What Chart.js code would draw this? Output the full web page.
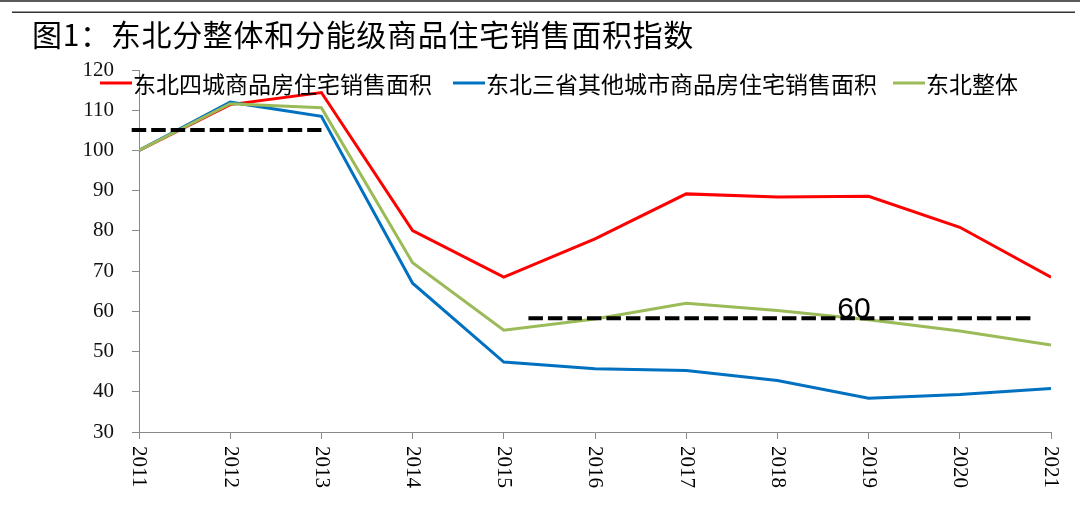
<!DOCTYPE html>
<html>
<head>
<meta charset="utf-8">
<script src="https://cdn.jsdelivr.net/npm/chart.js@4.4.1/dist/chart.umd.min.js"></script>
<style>
html,body{margin:0;padding:0;background:#fff;}
#wrap{position:relative;width:1080px;height:513px;}
canvas{display:block;}
</style>
</head>
<body>
<div id="wrap"><canvas id="c" width="1080" height="513"></canvas></div>
<script>
// ---- data ----
const titleText = "图1：东北分整体和分能级商品住宅销售面积指数";
const years = [2011, 2012, 2013, 2014, 2015, 2016, 2017, 2018, 2019, 2020, 2021];
const seriesNames = ["东北四城商品房住宅销售面积", "东北三省其他城市商品房住宅销售面积", "东北整体"];
const fourCities = [100, 111.4, 114.4, 80.1, 68.5, 78.0, 89.2, 88.4, 88.6, 80.9, 68.5];
const otherCities = [100, 112.0, 108.5, 67.0, 47.4, 45.7, 45.3, 42.8, 38.4, 39.3, 40.8];
const northeastAll = [100, 111.6, 110.6, 72.1, 55.3, 58.1, 62.0, 60.2, 57.9, 55.1, 51.6];
const refLine1X = [2010.92, 2013.0];
const refLine1Y = 105.1;
const refLine2X = [2015.27, 2020.78];
const refLine2Y = 58.3;
const annotationText = "60";
const annotationX = 2018.84;
const annotationY = 58.4;
const yTicks = [30, 40, 50, 60, 70, 80, 90, 100, 110, 120];

const colors = ["#FF0000", "#0070C0", "#9BBB59"];
const toXY = arr => years.map((yr, i) => ({x: yr, y: arr[i]}));

const decor = {
  id: 'decor',
  beforeDraw(chart) {
    const ctx = chart.ctx;
    ctx.save();
    ctx.fillStyle = '#fff';
    ctx.fillRect(0, 0, chart.width, chart.height);
    ctx.fillStyle = '#5a5a5a';
    ctx.fillRect(0, 0, 1080, 2);
    ctx.fillStyle = '#333';
    ctx.fillRect(12, 11.5, 1063, 1.5);
    ctx.fillStyle = '#000';
    ctx.font = '30px "Noto Sans CJK SC"';
    if ('letterSpacing' in ctx) ctx.letterSpacing = '0.7px';
    ctx.textBaseline = 'alphabetic';
    ctx.textAlign = 'left';
    ctx.fillText(titleText, 32, 46);
    if ('letterSpacing' in ctx) ctx.letterSpacing = '0px';
    ctx.restore();
  },
  afterDatasetsDraw(chart) {
    const ctx = chart.ctx;
    const xs = chart.scales.x, ys = chart.scales.y;
    ctx.save();
    ctx.fillStyle = '#000';
    ctx.font = '30px "Liberation Sans"';
    ctx.textAlign = 'center';
    ctx.textBaseline = 'alphabetic';
    ctx.fillText(annotationText, xs.getPixelForValue(annotationX), ys.getPixelForValue(annotationY));
    // x tick labels rotated clockwise
    ctx.font = '21px "Liberation Serif"';
    ctx.textAlign = 'left';
    ctx.textBaseline = 'middle';
    years.forEach(yr => {
      const px = xs.getPixelForValue(yr);
      ctx.save();
      ctx.translate(px, ys.bottom + 14);
      ctx.rotate(Math.PI / 2);
      ctx.fillText(String(yr), 0, 0);
      ctx.restore();
    });
    // legend
    const legendX = [100, 453, 893];
    const ly = 83;
    ctx.font = '23px "Noto Sans CJK SC"';
    ctx.textBaseline = 'middle';
    ctx.textAlign = 'left';
    seriesNames.forEach((name, i) => {
      ctx.strokeStyle = colors[i];
      ctx.lineWidth = 3;
      ctx.beginPath();
      ctx.moveTo(legendX[i], ly);
      ctx.lineTo(legendX[i] + 32, ly);
      ctx.stroke();
      ctx.fillStyle = '#000';
      ctx.fillText(name, legendX[i] + 33, ly + 1);
    });
    ctx.restore();
  }
};

new Chart(document.getElementById('c'), {
  type: 'line',
  data: {
    datasets: [
      {label: seriesNames[0], data: toXY(fourCities), borderColor: colors[0], borderWidth: 3, pointRadius: 0, order: 3, tension: 0},
      {label: seriesNames[1], data: toXY(otherCities), borderColor: colors[1], borderWidth: 3, pointRadius: 0, order: 2, tension: 0},
      {label: seriesNames[2], data: toXY(northeastAll), borderColor: colors[2], borderWidth: 3, pointRadius: 0, order: 1, tension: 0},
      {label: 'ref1', data: refLine1X.map(x => ({x, y: refLine1Y})), borderColor: '#000', borderWidth: 4, borderDash: [14.5, 5], pointRadius: 0, order: 0, clip: false},
      {label: 'ref2', data: refLine2X.map(x => ({x, y: refLine2Y})), borderColor: '#000', borderWidth: 4, borderDash: [14.5, 5], pointRadius: 0, order: 0, clip: false}
    ]
  },
  options: {
    responsive: false,
    animation: false,
    devicePixelRatio: 1,
    layout: {padding: {left: 0, top: 70, right: 29, bottom: 0}},
    plugins: {legend: {display: false}, tooltip: {enabled: false}},
    scales: {
      x: {
        type: 'linear', min: 2011, max: 2021,
        afterBuildTicks: s => { s.ticks = years.map(v => ({value: v})); },
        afterFit: s => { s.height = 81; },
        ticks: {display: false},
        grid: {display: true, drawOnChartArea: false, drawTicks: true, tickLength: 7, color: '#8a8a8a'},
        border: {display: true, color: '#8a8a8a', width: 1}
      },
      y: {
        min: 30, max: 120,
        afterBuildTicks: s => { s.ticks = yTicks.map(v => ({value: v})); },
        afterFit: s => { s.width = 139; },
        ticks: {padding: 18, color: '#111', font: {family: 'Liberation Serif', size: 21}},
        grid: {display: true, drawOnChartArea: false, drawTicks: true, tickLength: 7, color: '#8a8a8a'},
        border: {display: true, color: '#8a8a8a', width: 1}
      }
    }
  },
  plugins: [decor]
});
</script>
</body>
</html>
